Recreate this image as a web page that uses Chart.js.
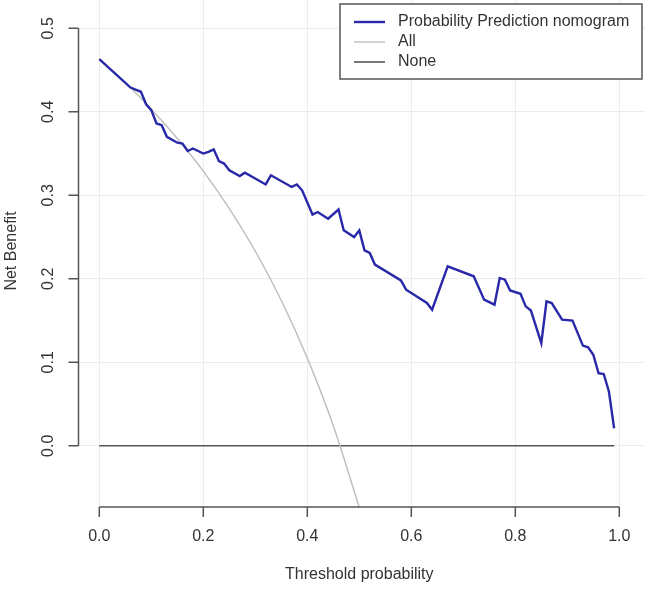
<!DOCTYPE html>
<html>
<head>
<meta charset="utf-8">
<script src="https://cdn.jsdelivr.net/npm/chart.js@4.4.1/dist/chart.umd.min.js"></script>
<style>
  html, body { margin: 0; padding: 0; background: #fff; }
  #wrap { width: 645px; height: 590px; }
</style>
</head>
<body>
<div id="wrap"><canvas id="dca"></canvas></div>
<script>
// Threshold probabilities and net benefit
const nomogramThreshold = [
  0.00, 0.06, 0.08, 0.09, 0.10, 0.11, 0.12, 0.13, 0.15, 0.16,
  0.17, 0.18, 0.20, 0.21, 0.22, 0.23, 0.24, 0.25, 0.27, 0.28,
  0.32, 0.33, 0.37, 0.38, 0.39, 0.41, 0.42, 0.44, 0.46, 0.47,
  0.49, 0.50, 0.51, 0.52, 0.53, 0.58, 0.59, 0.63, 0.64, 0.67,
  0.72, 0.74, 0.76, 0.77, 0.78, 0.79, 0.81, 0.82, 0.83, 0.85,
  0.86, 0.87, 0.89, 0.91, 0.93, 0.94, 0.95, 0.96, 0.97, 0.98,
  0.99
];
const nomogramBenefit = [
  0.463, 0.429, 0.424, 0.409, 0.402, 0.386, 0.384, 0.370, 0.363, 0.362,
  0.353, 0.356, 0.350, 0.352, 0.355, 0.341, 0.338, 0.330, 0.323, 0.327,
  0.313, 0.324, 0.310, 0.313, 0.306, 0.277, 0.280, 0.272, 0.283, 0.258,
  0.250, 0.258, 0.234, 0.231, 0.217, 0.198, 0.187, 0.171, 0.163, 0.215,
  0.203, 0.175, 0.169, 0.201, 0.199, 0.186, 0.182, 0.167, 0.162, 0.123,
  0.173, 0.171, 0.151, 0.150, 0.120, 0.118, 0.109, 0.087, 0.086, 0.065,
  0.021
];

const allThreshold = [0.00, 0.05, 0.10, 0.15, 0.20, 0.25, 0.30, 0.35, 0.40, 0.45, 0.50];
const allBenefit = [0.463, 0.435, 0.403, 0.368, 0.329, 0.284, 0.233, 0.174, 0.105, 0.024, -0.074];

const noneThreshold = [0.00, 0.99];
const noneBenefit = [0, 0];

const xTicks = [0.0, 0.2, 0.4, 0.6, 0.8, 1.0];
const yTicks = [0.0, 0.1, 0.2, 0.3, 0.4, 0.5];

const seriesLabels = ["Probability Prediction nomogram", "All", "None"];

const FONT = "16px 'Liberation Sans', Arial, sans-serif";
const TEXT = "#333333";
const AXIS = "#555555";

function toPoints(xs, ys) {
  return xs.map((x, i) => ({ x: x, y: ys[i] }));
}

// R-style axes, ticks and titles
const baseAxesPlugin = {
  id: "baseAxes",
  afterDraw: (chart) => {
    const { ctx, chartArea } = chart;
    const xs = chart.scales.x;
    const ys = chart.scales.y;
    const axisY = chartArea.bottom;
    const axisX = chartArea.left;

    ctx.save();
    ctx.strokeStyle = AXIS;
    ctx.lineWidth = 1.5;

    // x axis
    ctx.beginPath();
    ctx.moveTo(xs.getPixelForValue(xTicks[0]), axisY);
    ctx.lineTo(xs.getPixelForValue(xTicks[xTicks.length - 1]), axisY);
    xTicks.forEach((t) => {
      const px = xs.getPixelForValue(t);
      ctx.moveTo(px, axisY);
      ctx.lineTo(px, axisY + 10);
    });
    ctx.stroke();

    // y axis
    ctx.beginPath();
    ctx.moveTo(axisX, ys.getPixelForValue(yTicks[0]));
    ctx.lineTo(axisX, ys.getPixelForValue(yTicks[yTicks.length - 1]));
    yTicks.forEach((t) => {
      const py = ys.getPixelForValue(t);
      ctx.moveTo(axisX, py);
      ctx.lineTo(axisX - 10, py);
    });
    ctx.stroke();

    ctx.fillStyle = TEXT;
    ctx.font = FONT;
    ctx.textAlign = "center";
    ctx.textBaseline = "middle";

    xTicks.forEach((t) => {
      ctx.fillText(t.toFixed(1), xs.getPixelForValue(t), axisY + 30);
    });
    ctx.fillText("Threshold probability", xs.getPixelForValue(0.5), axisY + 68);

    yTicks.forEach((t) => {
      ctx.save();
      ctx.translate(axisX - 30, ys.getPixelForValue(t));
      ctx.rotate(-Math.PI / 2);
      ctx.fillText(t.toFixed(1), 0, 0);
      ctx.restore();
    });

    ctx.save();
    ctx.translate(12, 251);
    ctx.rotate(-Math.PI / 2);
    ctx.fillText("Net Benefit", 0, 0);
    ctx.restore();

    ctx.restore();
  },
};

// Boxed legend in the top right corner
const boxLegendPlugin = {
  id: "boxLegend",
  afterDraw: (chart) => {
    const { ctx } = chart;
    const left = 340, top = 4, right = 642, bottom = 79;
    ctx.save();
    ctx.fillStyle = "#ffffff";
    ctx.fillRect(left, top, right - left, bottom - top);
    ctx.strokeStyle = AXIS;
    ctx.lineWidth = 1.5;
    ctx.strokeRect(left, top, right - left, bottom - top);

    ctx.font = FONT;
    ctx.textAlign = "left";
    ctx.textBaseline = "middle";
    chart.data.datasets.forEach((ds, i) => {
      const y = 22 + i * 20;
      ctx.strokeStyle = ds.borderColor;
      ctx.lineWidth = ds.borderWidth;
      ctx.beginPath();
      ctx.moveTo(354, y);
      ctx.lineTo(385, y);
      ctx.stroke();
      ctx.fillStyle = TEXT;
      ctx.fillText(ds.label, 398, y);
    });
    ctx.restore();
  },
};

const ctx = document.getElementById("dca").getContext("2d");

new Chart(ctx, {
  type: "line",
  data: {
    datasets: [
      {
        label: seriesLabels[0],
        data: toPoints(nomogramThreshold, nomogramBenefit),
        borderColor: "#2828a8",
        borderWidth: 2.4,
        pointRadius: 0,
        tension: 0,
        order: 0,
      },
      {
        label: seriesLabels[1],
        data: toPoints(allThreshold, allBenefit),
        borderColor: "#bdbdbd",
        borderWidth: 1.4,
        pointRadius: 0,
        cubicInterpolationMode: "monotone",
        clip: false,
        order: 1,
      },
      {
        label: seriesLabels[2],
        data: toPoints(noneThreshold, noneBenefit),
        borderColor: "#555555",
        borderWidth: 1.6,
        pointRadius: 0,
        order: 2,
      },
    ],
  },
  options: {
    responsive: true,
    maintainAspectRatio: false,
    animation: false,
    layout: {
      padding: { left: 78.5, right: 0, top: 0, bottom: 83 },
    },
    plugins: {
      legend: { display: false },
      tooltip: { enabled: false },
    },
    scales: {
      x: {
        type: "linear",
        min: -0.04,
        max: 1.0494,
        afterBuildTicks: (scale) => {
          scale.ticks = xTicks.map((v) => ({ value: v }));
        },
        ticks: { display: false },
        border: { display: false },
        grid: { color: "#ececec", lineWidth: 1, drawTicks: false },
      },
      y: {
        type: "linear",
        min: -0.0733,
        max: 0.5339,
        afterBuildTicks: (scale) => {
          scale.ticks = yTicks.map((v) => ({ value: v }));
        },
        ticks: { display: false },
        border: { display: false },
        grid: { color: "#ececec", lineWidth: 1, drawTicks: false },
      },
    },
  },
  plugins: [baseAxesPlugin, boxLegendPlugin],
});
</script>
</body>
</html>
